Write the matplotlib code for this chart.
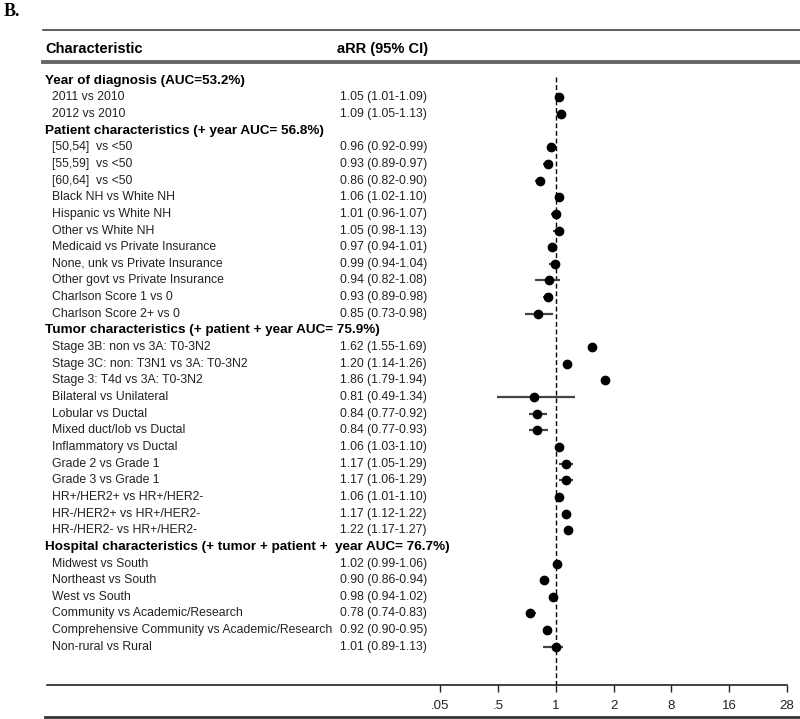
import numpy as np
import matplotlib
matplotlib.use("Agg")
from matplotlib import pyplot as plt
from matplotlib.lines import Line2D
from matplotlib.transforms import blended_transform_factory

plt.rcParams['font.family'] = ['Liberation Sans', 'DejaVu Sans']

# rows of the table
labels = [
    "Year of diagnosis (AUC=53.2%)",
    "2011 vs 2010",
    "2012 vs 2010",
    "Patient characteristics (+ year AUC= 56.8%)",
    "[50,54]  vs <50",
    "[55,59]  vs <50",
    "[60,64]  vs <50",
    "Black NH vs White NH",
    "Hispanic vs White NH",
    "Other vs White NH",
    "Medicaid vs Private Insurance",
    "None, unk vs Private Insurance",
    "Other govt vs Private Insurance",
    "Charlson Score 1 vs 0",
    "Charlson Score 2+ vs 0",
    "Tumor characteristics (+ patient + year AUC= 75.9%)",
    "Stage 3B: non vs 3A: T0-3N2",
    "Stage 3C: non: T3N1 vs 3A: T0-3N2",
    "Stage 3: T4d vs 3A: T0-3N2",
    "Bilateral vs Unilateral",
    "Lobular vs Ductal",
    "Mixed duct/lob vs Ductal",
    "Inflammatory vs Ductal",
    "Grade 2 vs Grade 1",
    "Grade 3 vs Grade 1",
    "HR+/HER2+ vs HR+/HER2-",
    "HR-/HER2+ vs HR+/HER2-",
    "HR-/HER2- vs HR+/HER2-",
    "Hospital characteristics (+ tumor + patient +  year AUC= 76.7%)",
    "Midwest vs South",
    "Northeast vs South",
    "West vs South",
    "Community vs Academic/Research",
    "Comprehensive Community vs Academic/Research",
    "Non-rural vs Rural",
]

nan = np.nan
rr = [nan, 1.05, 1.09,
      nan, 0.96, 0.93, 0.86, 1.06, 1.01, 1.05, 0.97, 0.99, 0.94, 0.93, 0.85,
      nan, 1.62, 1.20, 1.86, 0.81, 0.84, 0.84, 1.06, 1.17, 1.17, 1.06, 1.17, 1.22,
      nan, 1.02, 0.90, 0.98, 0.78, 0.92, 1.01]
ci_lo = [nan, 1.01, 1.05,
         nan, 0.92, 0.89, 0.82, 1.02, 0.96, 0.98, 0.94, 0.94, 0.82, 0.89, 0.73,
         nan, 1.55, 1.14, 1.79, 0.49, 0.77, 0.77, 1.03, 1.05, 1.06, 1.01, 1.12, 1.17,
         nan, 0.99, 0.86, 0.94, 0.74, 0.90, 0.89]
ci_hi = [nan, 1.09, 1.13,
         nan, 0.99, 0.97, 0.90, 1.10, 1.07, 1.13, 1.01, 1.04, 1.08, 0.98, 0.98,
         nan, 1.69, 1.26, 1.94, 1.34, 0.92, 0.93, 1.10, 1.29, 1.29, 1.10, 1.22, 1.27,
         nan, 1.06, 0.94, 1.02, 0.83, 0.95, 1.13]

# the axis has evenly spaced ticks, linear between neighbouring ticks
tick_vals = np.array([0.05, 0.5, 1, 2, 8, 16, 28])
tick_labels = [".05", ".5", "1", "2", "8", "16", "28"]
tick_pos = np.arange(len(tick_vals)) - 2.0


def fwd(v):
    v = np.asarray(v, dtype=float)
    p = np.interp(v, tick_vals, tick_pos)
    slope = (tick_pos[1] - tick_pos[0]) / (tick_vals[1] - tick_vals[0])
    return np.where(v < tick_vals[0], tick_pos[0] - (tick_vals[0] - v) * slope, p)


def inv(p):
    p = np.asarray(p, dtype=float)
    v = np.interp(p, tick_pos, tick_vals)
    slope = (tick_vals[1] - tick_vals[0]) / (tick_pos[1] - tick_pos[0])
    return np.where(p < tick_pos[0], tick_vals[0] - (tick_pos[0] - p) * slope, v)


W, H = 800, 719
fig = plt.figure(figsize=(W / 100, H / 100), dpi=100)

# plot area in pixels
x0, x1 = 47, 787
y_top, y_axis = 62, 685
row0, dy = 80.7, 16.65
nrows = len(labels)

ax = fig.add_axes([x0 / W, 1 - y_axis / H, (x1 - x0) / W, (y_axis - y_top) / H])
ax.set_xscale('function', functions=(fwd, inv))
px_per_tick = (x1 - 440) / 6.0
ax.set_xlim(float(inv(-(556 - x0) / px_per_tick)), 28)
ax.set_ylim((y_axis - row0) / dy, (y_top - row0) / dy)

ypos = np.arange(nrows)
rr = np.array(rr)
ci_lo = np.array(ci_lo)
ci_hi = np.array(ci_hi)
ok = ~np.isnan(rr)

ax.vlines(1, -0.2, (y_axis - row0) / dy, colors='black', linestyles=(0, (3.5, 2)), lw=1.0, zorder=1)
ax.hlines(ypos[ok], ci_lo[ok], ci_hi[ok], colors='#444444', lw=1.6, zorder=2)
ax.plot(rr[ok], ypos[ok], 'o', color='black', ms=6, zorder=3)

for s in ['top', 'right', 'left']:
    ax.spines[s].set_visible(False)
ax.spines['bottom'].set_linewidth(1.2)
ax.spines['bottom'].set_color('#222222')
ax.set_yticks([])
ax.set_xticks(tick_vals)
ax.set_xticklabels(tick_labels)
ax.xaxis.set_minor_locator(matplotlib.ticker.NullLocator())
ax.tick_params(axis='x', direction='out', length=5, width=1.0, labelsize=9.5, pad=6, colors='#222222')

# table text, group headers are rows without an estimate
tr = blended_transform_factory(fig.transFigure, ax.transData)
for i, lab in enumerate(labels):
    if not ok[i]:
        ax.text(45 / W, i, lab, transform=tr, ha='left', va='center',
                fontsize=9.7, fontweight='bold', clip_on=False)
    else:
        ax.text(52 / W, i, lab, transform=tr, ha='left', va='center',
                fontsize=8.8, color='#222222', clip_on=False)
        ax.text(340 / W, i, f"{rr[i]:.2f} ({ci_lo[i]:.2f}-{ci_hi[i]:.2f})", transform=tr,
                ha='left', va='center', fontsize=8.8, color='#222222', clip_on=False)

fig.text(45 / W, 1 - 49 / H, "Characteristic", fontsize=10.5, fontweight='bold', va='center')
fig.text(337 / W, 1 - 49 / H, "aRR (95% CI)", fontsize=10.5, fontweight='bold', va='center')
fig.text(4 / W, 1 - 11 / H, "B.", fontsize=13, fontweight='bold', family='Liberation Serif', va='center')

# rules
fig.add_artist(Line2D([43 / W, 1], [1 - 30 / H] * 2, color='#444444', lw=1.2))
fig.add_artist(Line2D([43 / W, 1], [1 - 62 / H] * 2, color='#666666', lw=2.8))
fig.add_artist(Line2D([45 / W, 1], [1 - 717 / H] * 2, color='#333333', lw=2.0))

fig.savefig("out.png", dpi=100)
